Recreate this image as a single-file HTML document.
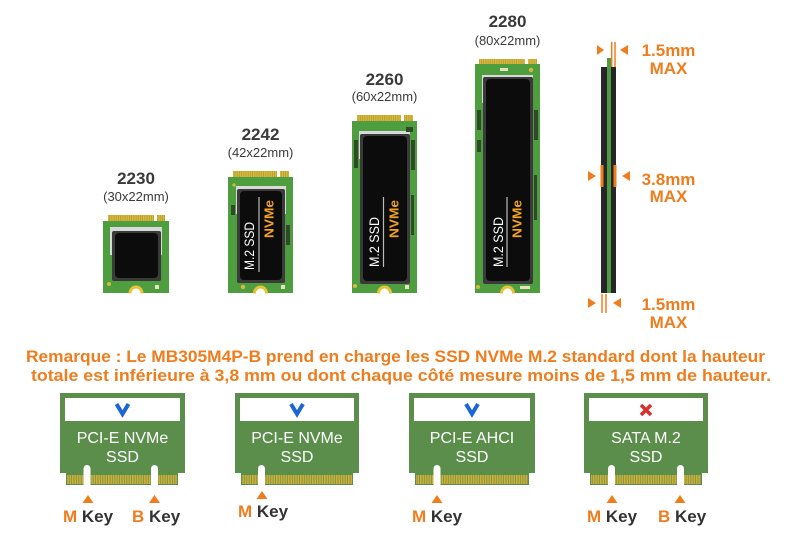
<!DOCTYPE html>
<html><head><meta charset="utf-8"><style>
html,body{margin:0;padding:0;background:#fff;}
svg{display:block;}
text{font-family:"Liberation Sans",sans-serif;}
</style></head><body>
<svg width="800" height="533" viewBox="0 0 800 533" xmlns="http://www.w3.org/2000/svg">
<defs>
<pattern id="gold" width="2.2" height="10" patternUnits="userSpaceOnUse">
<rect width="2.2" height="10" fill="#b2962c"/><rect width="1.5" height="10" fill="#d8b93e"/>
</pattern>
<pattern id="gold2" width="2.4" height="10" patternUnits="userSpaceOnUse">
<rect width="2.4" height="10" fill="#6f9448"/><rect width="1.6" height="10" fill="#cfae38"/>
</pattern>
</defs>
<rect width="800" height="533" fill="#fff"/>

<!-- Top labels -->
<g fill="#3a3a3a" text-anchor="middle">
<text x="136" y="184" font-size="17" font-weight="bold">2230</text>
<text x="136" y="201" font-size="13">(30x22mm)</text>
<text x="260.5" y="140" font-size="17" font-weight="bold">2242</text>
<text x="260.5" y="157" font-size="13">(42x22mm)</text>
<text x="384.5" y="85" font-size="17" font-weight="bold">2260</text>
<text x="384.5" y="101" font-size="13">(60x22mm)</text>
<text x="507.5" y="27" font-size="17" font-weight="bold">2280</text>
<text x="507.5" y="45" font-size="13">(80x22mm)</text>
</g>

<!-- 2230 -->
<g>
<rect x="108" y="215" width="57" height="7" fill="url(#gold)"/>
<rect x="154" y="214" width="3" height="8" fill="#fff"/>
<rect x="103" y="221" width="66" height="72" fill="#4e9d3f"/>
<rect x="110" y="227" width="52" height="28" fill="#d9d9d9"/>
<rect x="112" y="231" width="49" height="50" rx="2" fill="#3a3a3a"/>
<rect x="115" y="233" width="43" height="45" rx="4" fill="#0c0c0c"/>
<circle cx="109" cy="284" r="2" fill="#d8b93e"/>
<rect x="155" y="285" width="4" height="4" fill="#e7e2c0"/>
<circle cx="136" cy="293" r="7.5" fill="#e6c13a"/><circle cx="136" cy="293" r="4.5" fill="#fff"/>
</g>

<!-- 2242 -->
<g>
<rect x="233" y="171" width="56" height="7" fill="url(#gold)"/>
<rect x="277" y="170" width="3" height="8" fill="#fff"/>
<rect x="228" y="177" width="65" height="116" fill="#4e9d3f"/>
<rect x="236" y="186" width="50" height="28" fill="#d9d9d9"/>
<rect x="237" y="189" width="48" height="94" rx="2" fill="#3a3a3a"/>
<rect x="240" y="191" width="42" height="89" rx="4" fill="#0c0c0c"/>
<rect x="231" y="205" width="4" height="10" fill="#2e4a28"/>
<rect x="286" y="225" width="4" height="20" fill="#2e4a28"/>
<circle cx="234" cy="185" r="1.6" fill="#d8b93e"/>
<circle cx="243" cy="287" r="2.2" fill="#d8b93e"/>
<rect x="281" y="285" width="4" height="4" fill="#e7e2c0"/>
<line x1="259" y1="197" x2="259" y2="272" stroke="#bbb" stroke-width="1.2"/>
<text transform="translate(249,246) rotate(-90)" text-anchor="middle" dominant-baseline="central" font-size="14" fill="#fff" textLength="48" lengthAdjust="spacingAndGlyphs">M.2 SSD</text>
<text transform="translate(269,219) rotate(-90)" text-anchor="middle" dominant-baseline="central" font-size="13" font-weight="bold" fill="#f2a21e" textLength="38" lengthAdjust="spacingAndGlyphs">NVMe</text>
<circle cx="260.5" cy="293" r="7.5" fill="#e6c13a"/><circle cx="260.5" cy="293" r="4.5" fill="#fff"/>
</g>

<!-- 2260 -->
<g>
<rect x="357" y="115" width="56" height="7" fill="url(#gold)"/>
<rect x="401" y="114" width="3" height="8" fill="#fff"/>
<rect x="352" y="121" width="65" height="172" fill="#4e9d3f"/>
<rect x="359" y="131" width="51" height="28" fill="#d9d9d9"/>
<rect x="360" y="134" width="50" height="150" rx="2" fill="#3a3a3a"/>
<rect x="363" y="136" width="44" height="145" rx="4" fill="#0c0c0c"/>
<rect x="354" y="140" width="4" height="28" fill="#2e4a28"/>
<rect x="411" y="140" width="4" height="30" fill="#2e4a28"/>
<rect x="411" y="195" width="3" height="40" fill="#2e4a28"/>
<rect x="406" y="127" width="7" height="5" fill="#2e4a28"/>
<circle cx="355" cy="286" r="2" fill="#d8b93e"/>
<rect x="405" y="285" width="4" height="4" fill="#e7e2c0"/>
<line x1="383.5" y1="197" x2="383.5" y2="267" stroke="#bbb" stroke-width="1.2"/>
<text transform="translate(374,242) rotate(-90)" text-anchor="middle" dominant-baseline="central" font-size="14" fill="#fff" textLength="50" lengthAdjust="spacingAndGlyphs">M.2 SSD</text>
<text transform="translate(394,219) rotate(-90)" text-anchor="middle" dominant-baseline="central" font-size="13" font-weight="bold" fill="#f2a21e" textLength="38" lengthAdjust="spacingAndGlyphs">NVMe</text>
<circle cx="384.5" cy="293" r="7.5" fill="#e6c13a"/><circle cx="384.5" cy="293" r="4.5" fill="#fff"/>
</g>

<!-- 2280 -->
<g>
<rect x="479" y="59" width="58" height="6" fill="url(#gold)"/>
<rect x="525" y="58" width="3" height="7" fill="#fff"/>
<rect x="475" y="64" width="65" height="229" fill="#4e9d3f"/>
<rect x="482" y="75" width="51" height="28" fill="#d9d9d9"/>
<rect x="483" y="77" width="50" height="207" rx="2" fill="#3a3a3a"/>
<rect x="486" y="79" width="44" height="202" rx="4" fill="#0c0c0c"/>
<rect x="477" y="110" width="4" height="20" fill="#2e4a28"/>
<rect x="477" y="140" width="4" height="12" fill="#2e4a28"/>
<rect x="534" y="110" width="4" height="30" fill="#2e4a28"/>
<rect x="534" y="175" width="3" height="45" fill="#2e4a28"/>
<rect x="500" y="68" width="8" height="3" fill="#e7e2c0"/>
<circle cx="531" cy="70" r="2.2" fill="#d8b93e"/>
<circle cx="478" cy="287" r="2" fill="#d8b93e"/>
<rect x="520" y="286" width="10" height="3" fill="#e7e2c0"/>
<line x1="507" y1="197" x2="507" y2="267" stroke="#bbb" stroke-width="1.2"/>
<text transform="translate(498,242) rotate(-90)" text-anchor="middle" dominant-baseline="central" font-size="14" fill="#fff" textLength="50" lengthAdjust="spacingAndGlyphs">M.2 SSD</text>
<text transform="translate(517,219) rotate(-90)" text-anchor="middle" dominant-baseline="central" font-size="13" font-weight="bold" fill="#f2a21e" textLength="38" lengthAdjust="spacingAndGlyphs">NVMe</text>
<circle cx="507.5" cy="293" r="7.5" fill="#e6c13a"/><circle cx="507.5" cy="293" r="4.5" fill="#fff"/>
</g>
<rect x="90" y="293.5" width="470" height="10" fill="#fff"/>

<!-- Side view -->
<g>
<rect x="601" y="67" width="15" height="226" fill="#262626"/>
<rect x="607" y="58" width="4" height="235" fill="#4f9a45"/>
<g stroke="#ef7d1e" stroke-width="1.5">
<line x1="611.7" y1="42" x2="611.7" y2="67"/>
<line x1="615" y1="42" x2="615" y2="67"/>
<line x1="602" y1="294" x2="602" y2="313"/>
<line x1="606" y1="294" x2="606" y2="313"/>
</g>
<rect x="600.5" y="165" width="3" height="22" fill="#ef7d1e"/>
<rect x="613.5" y="165" width="3" height="22" fill="#ef7d1e"/>
<g fill="#ef7d1e">
<polygon points="597,45 597,55 604,50"/>
<polygon points="628,45 628,55 620,50"/>
<polygon points="588,171 588,181 596,176"/>
<polygon points="630,171 630,181 622,176"/>
<polygon points="588,298 588,308 596,303"/>
<polygon points="621,298 621,308 613,303"/>
</g>
<g fill="#ef7d1e" font-weight="bold" font-size="17" text-anchor="middle">
<text x="668.5" y="56">1.5mm</text>
<text x="668.5" y="74">MAX</text>
<text x="668.5" y="185">3.8mm</text>
<text x="668.5" y="202">MAX</text>
<text x="668.5" y="310">1.5mm</text>
<text x="668.5" y="328">MAX</text>
</g>
</g>

<!-- Note -->
<g fill="#ef7d1e" font-weight="bold" font-size="17">
<text x="26" y="362" textLength="739" lengthAdjust="spacingAndGlyphs">Remarque : Le MB305M4P-B prend en charge les SSD NVMe M.2 standard dont la hauteur</text>
<text x="31" y="381" textLength="740" lengthAdjust="spacingAndGlyphs">totale est inférieure à 3,8 mm ou dont chaque côté mesure moins de 1,5 mm de hauteur.</text>
</g>

<!-- Bottom cards -->
<!-- card1 -->
<g>
<rect x="60" y="393" width="125" height="80" fill="#5a8e4a"/>
<rect x="66" y="472" width="112" height="13" fill="#5a8e4a"/>
<rect x="67" y="475" width="110" height="9" fill="url(#gold2)"/>
<rect x="65" y="398" width="115" height="23" fill="#fff"/>
<rect x="83.5" y="465" width="7" height="21" rx="3.5" fill="#fff"/>
<rect x="83.5" y="470" width="7" height="16" fill="#fff"/>
<rect x="151" y="465" width="7" height="21" rx="3.5" fill="#fff"/>
<rect x="151" y="470" width="7" height="16" fill="#fff"/>
<polyline points="116.5,404 122.5,414 128.5,404" fill="none" stroke="#1a66d9" stroke-width="4"/>
<text x="122.5" y="443" text-anchor="middle" font-size="16" fill="#fff">PCI-E NVMe</text>
<text x="122.5" y="462" text-anchor="middle" font-size="16" fill="#fff">SSD</text>
</g>
<!-- card2 -->
<g>
<rect x="235" y="393" width="124" height="80" fill="#5a8e4a"/>
<rect x="241" y="472" width="112" height="13" fill="#5a8e4a"/>
<rect x="242" y="475" width="110" height="9" fill="url(#gold2)"/>
<rect x="240" y="398" width="114" height="23" fill="#fff"/>
<rect x="258" y="465" width="7" height="21" rx="3.5" fill="#fff"/>
<rect x="258" y="470" width="7" height="16" fill="#fff"/>
<polyline points="291,404 297,414 303,404" fill="none" stroke="#1a66d9" stroke-width="4"/>
<text x="297" y="443" text-anchor="middle" font-size="16" fill="#fff">PCI-E NVMe</text>
<text x="297" y="462" text-anchor="middle" font-size="16" fill="#fff">SSD</text>
</g>
<!-- card3 -->
<g>
<rect x="409" y="393" width="126" height="80" fill="#5a8e4a"/>
<rect x="415" y="472" width="114" height="13" fill="#5a8e4a"/>
<rect x="416" y="475" width="112" height="9" fill="url(#gold2)"/>
<rect x="414" y="398" width="116" height="23" fill="#fff"/>
<rect x="433.5" y="465" width="7" height="21" rx="3.5" fill="#fff"/>
<rect x="433.5" y="470" width="7" height="16" fill="#fff"/>
<polyline points="466,404 472,414 478,404" fill="none" stroke="#1a66d9" stroke-width="4"/>
<text x="472" y="443" text-anchor="middle" font-size="16" fill="#fff">PCI-E AHCI</text>
<text x="472" y="462" text-anchor="middle" font-size="16" fill="#fff">SSD</text>
</g>
<!-- card4 -->
<g>
<rect x="584" y="393" width="124" height="80" fill="#5a8e4a"/>
<rect x="590" y="472" width="112" height="13" fill="#5a8e4a"/>
<rect x="591" y="475" width="110" height="9" fill="url(#gold2)"/>
<rect x="589" y="398" width="114" height="23" fill="#fff"/>
<rect x="608" y="465" width="7" height="21" rx="3.5" fill="#fff"/>
<rect x="608" y="470" width="7" height="16" fill="#fff"/>
<rect x="677" y="465" width="7" height="21" rx="3.5" fill="#fff"/>
<rect x="677" y="470" width="7" height="16" fill="#fff"/>
<g stroke="#d9302c" stroke-width="3.5"><line x1="641" y1="405" x2="651" y2="415"/><line x1="651" y1="405" x2="641" y2="415"/></g>
<text x="646" y="443" text-anchor="middle" font-size="16" fill="#fff">SATA M.2</text>
<text x="646" y="462" text-anchor="middle" font-size="16" fill="#fff">SSD</text>
</g>

<!-- key triangles -->
<g fill="#ef7d1e">
<polygon points="88,495 82.5,503 93.5,503"/>
<polygon points="154.5,495 149,503 160,503"/>
<polygon points="262,491 256.5,499 267.5,499"/>
<polygon points="437,495 431.5,503 442.5,503"/>
<polygon points="612,495 606.5,503 617.5,503"/>
<polygon points="680,495 674.5,503 685.5,503"/>
</g>
<!-- key labels -->
<g font-size="17" font-weight="bold">
<text x="63" y="522"><tspan fill="#ef7d1e">M</tspan><tspan fill="#333"> Key</tspan></text>
<text x="132" y="522"><tspan fill="#ef7d1e">B</tspan><tspan fill="#333"> Key</tspan></text>
<text x="238" y="517"><tspan fill="#ef7d1e">M</tspan><tspan fill="#333"> Key</tspan></text>
<text x="412" y="522"><tspan fill="#ef7d1e">M</tspan><tspan fill="#333"> Key</tspan></text>
<text x="587" y="522"><tspan fill="#ef7d1e">M</tspan><tspan fill="#333"> Key</tspan></text>
<text x="658" y="522"><tspan fill="#ef7d1e">B</tspan><tspan fill="#333"> Key</tspan></text>
</g>
</svg>
</body></html>
